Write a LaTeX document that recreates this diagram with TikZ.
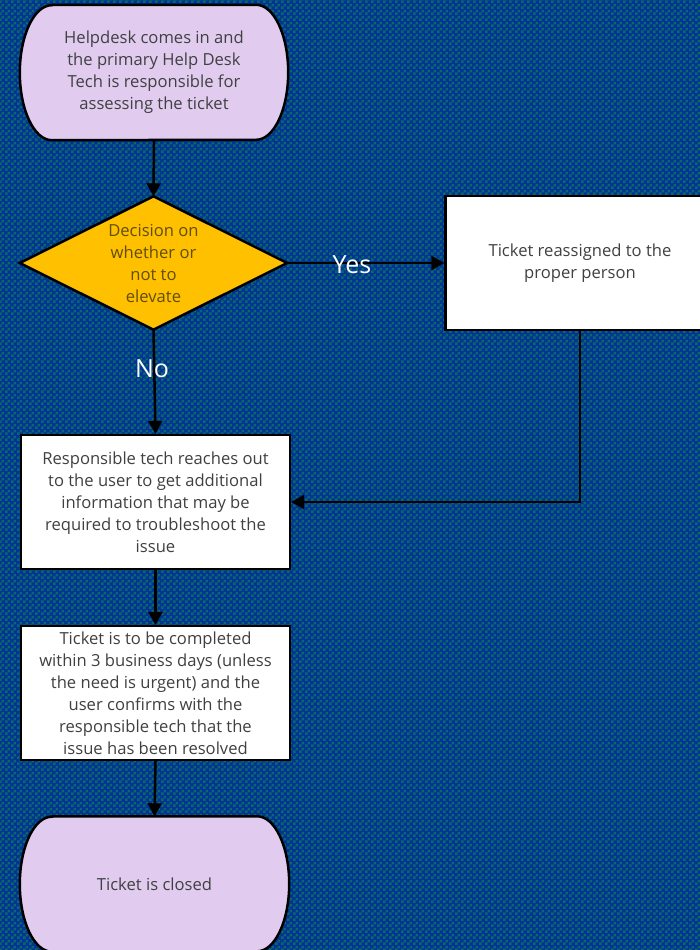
\documentclass[tikz,border=0pt]{standalone}
\usepackage{fontspec}
\setmainfont{Open Sans}
\usetikzlibrary{arrows.meta,patterns,backgrounds,calc}
\pgfdeclarepatternformonly{chk}{\pgfqpoint{0pt}{0pt}}{\pgfqpoint{6pt}{6pt}}{\pgfqpoint{6pt}{6pt}}{%
  \pgfpathrectangle{\pgfqpoint{0pt}{0pt}}{\pgfqpoint{3pt}{3pt}}%
  \pgfpathrectangle{\pgfqpoint{3pt}{3pt}}{\pgfqpoint{3pt}{3pt}}%
  \pgfusepath{fill}}
\definecolor{bgblue}{RGB}{0,51,153}
\definecolor{bgteal}{RGB}{12,104,100}
\definecolor{lav}{RGB}{225,204,240}
\definecolor{gold}{RGB}{255,192,0}
\definecolor{txt}{RGB}{64,64,64}
\definecolor{dtxt}{RGB}{96,78,10}
\tikzset{
  lbl/.style={font=\fontsize{16.6}{22}\selectfont, text=txt, align=center, inner sep=0pt},
  boxnode/.style={lbl, draw=black, line width=2.2pt, fill=white, minimum width=269pt, minimum height=134pt},
  shapeline/.style={draw=black, line width=2.5pt},
  arr/.style={draw=black, line width=2.5pt, -{Triangle[length=13pt,width=14pt]}},
  flowlbl/.style={font=\fontsize{25}{28}\selectfont, text=white, inner sep=0pt}
}
\begin{document}
\begin{tikzpicture}[x=1pt,y=1pt]
\useasboundingbox (0,0) rectangle (700,950);
% nodes
\node[lbl, minimum width=268pt, minimum height=135pt] (start) at (154,877.5)
  {Helpdesk comes in and\\the primary Help Desk\\Tech is responsible for\\assessing the ticket};
\node[lbl, text=dtxt, minimum width=267pt, minimum height=133pt] (dec) at (153.5,687)
  {Decision on\\whether or\\not to\\elevate};
\node[boxnode] (reas) at (580,687) {Ticket reassigned to the\\proper person};
\node[boxnode] (reach) at (155.5,448)
  {Responsible tech reaches out\\to the user to get additional\\information that may be\\required to troubleshoot the\\issue};
\node[boxnode] (compl) at (155.5,257)
  {Ticket is to be completed\\within 3 business days (unless\\the need is urgent) and the\\user confirms with the\\responsible tech that the\\issue has been resolved};
\node[lbl, minimum width=269pt, minimum height=135pt] (closed) at (154.5,66) {Ticket is closed};
% background and shapes
\begin{scope}[on background layer]
  \fill[bgblue] (-5,-5) rectangle (705,955);
  \fill[pattern=chk, pattern color=bgteal] (-5,-5) rectangle (705,955);
  \filldraw[shapeline, fill=lav]
    ($(start.north west)+(32,0)$) -- ($(start.north east)+(-32,0)$)
    arc[start angle=90, end angle=-90, x radius=32, y radius=67.5]
    -- ($(start.south west)+(32,0)$)
    arc[start angle=270, end angle=90, x radius=32, y radius=67.5] -- cycle;
  \filldraw[shapeline, fill=gold]
    (dec.north) -- (dec.east) -- (dec.south) -- (dec.west) -- cycle;
  \filldraw[shapeline, fill=lav]
    ($(closed.north west)+(32,0)$) -- ($(closed.north east)+(-32,0)$)
    arc[start angle=90, end angle=-90, x radius=32, y radius=67.5]
    -- ($(closed.south west)+(32,0)$)
    arc[start angle=270, end angle=90, x radius=32, y radius=67.5] -- cycle;
\end{scope}
% connectors
\draw[arr] (start.south) -- (dec.north);
\draw[arr] (dec.east) -- (reas.west);
\draw[arr] (dec.south) -- (reach.north);
\draw[arr] (reas.south) |- (reach.east);
\draw[arr] (reach.south) -- (compl.north);
\draw[arr] (compl.south) -- (closed.north);
% labels
\node[flowlbl] (yes) at (352,685) {Yes};
\node[flowlbl] (no) at (152,581) {No};
\end{tikzpicture}
\end{document}
